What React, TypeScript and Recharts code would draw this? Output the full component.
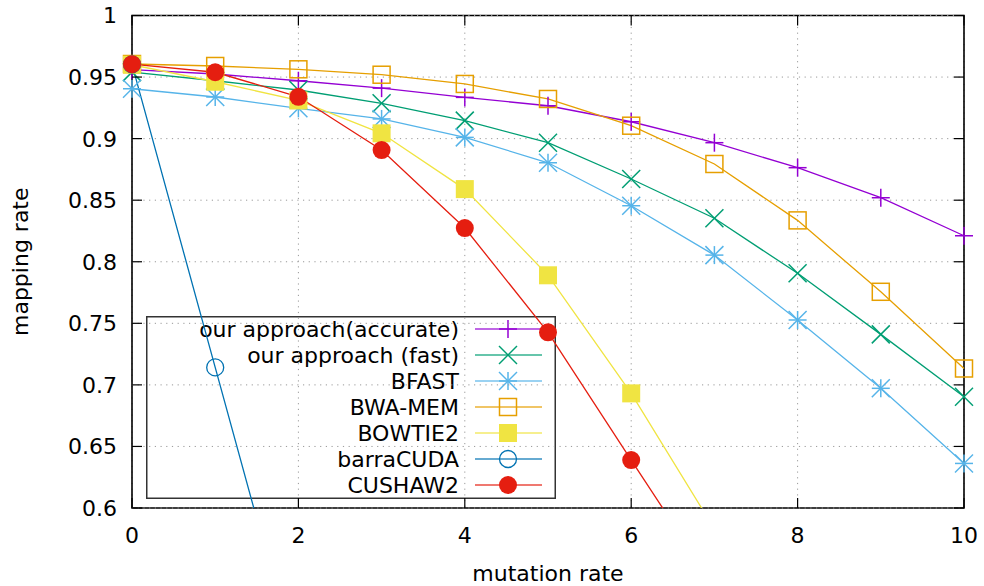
import React from 'react';
import { LineChart, Line, XAxis, YAxis, CartesianGrid, Legend, ReferenceArea, ReferenceLine } from 'recharts';

const mutationRates = [0, 1, 2, 3, 4, 5, 6, 7, 8, 9, 10];
const xTicks = [0, 2, 4, 6, 8, 10];
const yTicks = [0.6, 0.65, 0.7, 0.75, 0.8, 0.85, 0.9, 0.95, 1];

const accurate = [0.956, 0.9525, 0.947, 0.941, 0.9335, 0.9267, 0.9137, 0.8967, 0.8764, 0.852, 0.8211];
const fast = [0.954, 0.947, 0.9395, 0.9287, 0.9146, 0.8967, 0.8672, 0.8353, 0.7906, 0.741, 0.6903];
const bfast = [0.9405, 0.9338, 0.9246, 0.916, 0.901, 0.8804, 0.8455, 0.8054, 0.7527, 0.6972, 0.6362];
const bwaMem = [0.9606, 0.959, 0.9563, 0.9519, 0.9444, 0.9322, 0.9105, 0.8794, 0.8336, 0.7756, 0.7133];
const bowtie2 = [0.96, 0.9462, 0.931, 0.9043, 0.859, 0.789, 0.6931, 0.583, null, null, null];
const barraCuda = [0.9603, 0.7142, 0.468, null, null, null, null, null, null, null, null];
const cushaw2 = [0.9605, 0.9539, 0.934, 0.8907, 0.8274, 0.7427, 0.6389, 0.536, null, null, null];

const FONT = '"DejaVu Sans", sans-serif';
const FS = 22;
const GRID = '#999';
const GRID_DASH = '1.2 4.5';

// plot box (layout only)
const LEFT = 132;
const RIGHT = 964;
const TOP = 15.5;
const BOTTOM = 508;

type Shape = 'plus' | 'cross' | 'star' | 'square' | 'fsquare' | 'circle' | 'fcircle';

const series: { key: string; name: string; color: string; shape: Shape; values: (number | null)[] }[] = [
  { key: 'accurate', name: 'our approach(accurate)', color: '#9400d3', shape: 'plus', values: accurate },
  { key: 'fast', name: 'our approach (fast)', color: '#009e73', shape: 'cross', values: fast },
  { key: 'bfast', name: 'BFAST', color: '#56b4e9', shape: 'star', values: bfast },
  { key: 'bwa', name: 'BWA-MEM', color: '#e69f00', shape: 'square', values: bwaMem },
  { key: 'bowtie2', name: 'BOWTIE2', color: '#f0e442', shape: 'fsquare', values: bowtie2 },
  { key: 'barra', name: 'barraCUDA', color: '#0072b2', shape: 'circle', values: barraCuda },
  { key: 'cushaw2', name: 'CUSHAW2', color: '#e51e10', shape: 'fcircle', values: cushaw2 },
];

const data = mutationRates.map((x, i) => {
  const row: any = { x };
  series.forEach((s) => {
    const v = s.values[i];
    row[s.key] = v;
    row[s.key + '_m'] = v != null && v >= 0.6 ? v : null;
  });
  return row;
});

function Marker({ shape, color, cx, cy }: { shape: Shape; color: string; cx: number; cy: number }) {
  const h = 9;
  const sw = 1.5;
  switch (shape) {
    case 'plus':
      return (
        <g stroke={color} strokeWidth={sw}>
          <line x1={cx - h} y1={cy} x2={cx + h} y2={cy} />
          <line x1={cx} y1={cy - h} x2={cx} y2={cy + h} />
        </g>
      );
    case 'cross':
      return (
        <g stroke={color} strokeWidth={sw}>
          <line x1={cx - h} y1={cy - h} x2={cx + h} y2={cy + h} />
          <line x1={cx - h} y1={cy + h} x2={cx + h} y2={cy - h} />
        </g>
      );
    case 'star':
      return (
        <g stroke={color} strokeWidth={sw}>
          <line x1={cx - h} y1={cy} x2={cx + h} y2={cy} />
          <line x1={cx} y1={cy - h} x2={cx} y2={cy + h} />
          <line x1={cx - h} y1={cy - h} x2={cx + h} y2={cy + h} />
          <line x1={cx - h} y1={cy + h} x2={cx + h} y2={cy - h} />
        </g>
      );
    case 'square':
      return <rect x={cx - 8.5} y={cy - 8.5} width={17} height={17} fill="none" stroke={color} strokeWidth={sw} />;
    case 'fsquare':
      return <rect x={cx - 9} y={cy - 9} width={18} height={18} fill={color} stroke="none" />;
    case 'circle':
      return <circle cx={cx} cy={cy} r={8.5} fill="none" stroke={color} strokeWidth={1.3} />;
    default:
      return <circle cx={cx} cy={cy} r={9} fill={color} stroke="none" />;
  }
}

const makeDot = (shape: Shape, color: string, key: string) => (props: any) => {
  const { cx, cy, index, value } = props;
  if (cx == null || cy == null || value == null) return <g key={`${key}-${index}`} />;
  return (
    <g key={`${key}-${index}`}>
      <Marker shape={shape} color={color} cx={cx} cy={cy} />
    </g>
  );
};

const YTick = ({ y, payload }: any) => (
  <g>
    <text x={LEFT - 15} y={y} dy="0.36em" textAnchor="end" fontFamily={FONT} fontSize={FS} fill="#000">
      {String(payload.value)}
    </text>
    <line x1={LEFT} x2={LEFT + 10} y1={y} y2={y} stroke="#000" strokeWidth={1.2} />
    <line x1={RIGHT - 10} x2={RIGHT} y1={y} y2={y} stroke="#000" strokeWidth={1.2} />
  </g>
);

const XTick = ({ x, payload }: any) => (
  <g>
    <text x={x} y={535} dy="0.36em" textAnchor="middle" fontFamily={FONT} fontSize={FS} fill="#000">
      {String(payload.value)}
    </text>
    <line x1={x} x2={x} y1={BOTTOM} y2={BOTTOM - 10} stroke="#000" strokeWidth={1.2} />
    <line x1={x} x2={x} y1={TOP} y2={TOP + 10} stroke="#000" strokeWidth={1.2} />
  </g>
);

const KeyBox = () => {
  const w = 410;
  const rowH = 26;
  return (
    <svg width={w} height={183} style={{ display: 'block', overflow: 'visible' }}>
      <rect x={0.75} y={0.75} width={w - 1.5} height={181.5} fill="none" stroke="#333" strokeWidth={1.5} />
      {series.map((s, i) => {
        const cy = 13 + i * rowH;
        return (
          <g key={s.key}>
            <text x={313} y={cy} dy="0.36em" textAnchor="end" fontFamily={FONT} fontSize={FS} fill="#000">
              {s.name}
            </text>
            <line x1={329} x2={396} y1={cy} y2={cy} stroke={s.color} strokeWidth={2.2} strokeOpacity={0.6} />
            <Marker shape={s.shape} color={s.color} cx={362} cy={cy} />
          </g>
        );
      })}
    </svg>
  );
};

export default function App() {
  return (
    <div style={{ position: 'absolute', left: 0, top: 0, width: 984, height: 586, background: 'transparent' }}>
      <LineChart
        width={984}
        height={586}
        data={data}
        margin={{ top: TOP, right: 984 - RIGHT, bottom: 0, left: 0 }}
      >
        <CartesianGrid horizontal={false} stroke={GRID} strokeDasharray={GRID_DASH} strokeWidth={1} />
        <XAxis
          dataKey="x"
          type="number"
          domain={[0, 10]}
          ticks={xTicks}
          height={586 - BOTTOM}
          axisLine={false}
          tickLine={false}
          tick={<XTick />}
          label={{ value: 'mutation rate', position: 'insideBottom', offset: 5, fontFamily: FONT, fontSize: FS, fill: '#000' }}
        />
        <YAxis
          type="number"
          domain={[0.6, 1]}
          allowDataOverflow
          ticks={yTicks}
          width={LEFT}
          axisLine={false}
          tickLine={false}
          tick={<YTick />}
          label={{
            value: 'mapping rate',
            angle: -90,
            position: 'insideLeft',
            offset: 20,
            fontFamily: FONT,
            fontSize: FS,
            fill: '#000',
            style: { textAnchor: 'middle' },
          }}
        />
        <YAxis yAxisId="free" type="number" domain={[0.6, 1]} hide />
        {yTicks.map((t) => (
          <ReferenceLine key={t} y={t} stroke={GRID} strokeDasharray={GRID_DASH} strokeWidth={1} />
        ))}
        <ReferenceArea x1={0} x2={10} y1={0.6} y2={1} fill="none" stroke="#000" strokeWidth={1.6} />
        {series.flatMap((s) => [
          <Line
            key={s.key}
            dataKey={s.key}
            stroke={s.color}
            strokeWidth={1.3}
            dot={false}
            activeDot={false}
            legendType="none"
            isAnimationActive={false}
          />,
          <Line
            key={s.key + '_m'}
            yAxisId="free"
            dataKey={s.key + '_m'}
            stroke="none"
            dot={makeDot(s.shape, s.color, s.key)}
            activeDot={false}
            legendType="none"
            isAnimationActive={false}
          />,
        ])}
        <Legend
          layout="vertical"
          align="center"
          verticalAlign="middle"
          content={<KeyBox />}
          wrapperStyle={{ left: 146, top: 316, width: 410, height: 183, zIndex: -1 }}
        />
      </LineChart>
    </div>
  );
}
